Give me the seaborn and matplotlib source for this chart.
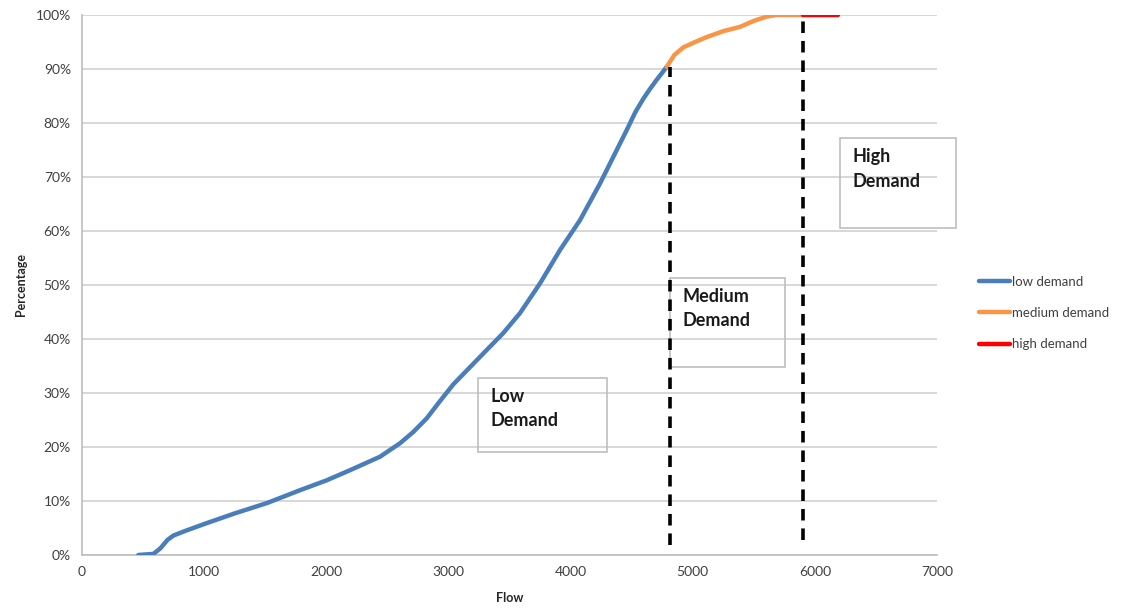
import numpy as np
import pandas as pd
import matplotlib
matplotlib.use("Agg")
import matplotlib.pyplot as plt
import seaborn as sns
from matplotlib.ticker import PercentFormatter

# values (flow, cumulative percentage)
flow_low = [461, 584, 640, 700, 748, 850, 1021, 1250, 1512, 1785, 2000, 2194, 2440, 2604,
            2713, 2822, 2931, 3040, 3259, 3449, 3586, 3750, 3914, 4077, 4241, 4378, 4460,
            4530, 4596, 4650, 4705, 4750, 4787]
pct_low = [0.0, 0.2, 1.2, 2.8, 3.6, 4.5, 5.9, 7.7, 9.6, 12.0, 13.8, 15.7, 18.2, 20.7,
           22.8, 25.3, 28.5, 31.6, 36.7, 41.1, 44.8, 50.3, 56.5, 62.0, 68.8, 75.0, 78.7,
           82.0, 84.5, 86.3, 88.0, 89.3, 90.4]
flow_med = [4787, 4850, 4923, 5020, 5114, 5250, 5387, 5500, 5606, 5688, 5905]
pct_med = [90.4, 92.6, 94.0, 95.0, 95.9, 97.0, 97.8, 98.9, 99.7, 100.0, 100.0]
flow_high = [5905, 6192]
pct_high = [100.0, 100.0]

demand_labels = ["low demand", "medium demand", "high demand"]
demand_colors = ["#4A7EBB", "#F79646", "#FF0000"]
thresholds = [4810, 5905]

df = pd.concat([
    pd.DataFrame({"Flow": flow_low, "Percentage": pct_low, "demand": demand_labels[0]}),
    pd.DataFrame({"Flow": flow_med, "Percentage": pct_med, "demand": demand_labels[1]}),
    pd.DataFrame({"Flow": flow_high, "Percentage": pct_high, "demand": demand_labels[2]}),
], ignore_index=True)
df["Percentage"] = df["Percentage"] / 100

sns.set_style("white")
plt.rcParams["font.family"] = ["Lato", "DejaVu Sans"]

fig = plt.figure(figsize=(11.27, 6.09), dpi=100)
ax = fig.add_axes([0.0728, 0.0887, 0.7586, 0.8867])

sns.lineplot(data=df, x="Flow", y="Percentage", hue="demand", hue_order=demand_labels,
             palette=dict(zip(demand_labels, demand_colors)), sort=False, estimator=None,
             linewidth=3.2, ax=ax, zorder=3)

# dashed thresholds
ax.plot([thresholds[0]] * 2, [0.018, 0.904], ls=(0, (3.2, 2.2)), color="black", lw=2.6, zorder=4)
ax.plot([thresholds[1]] * 2, [0.027, 1.0], ls=(0, (3.2, 2.2)), color="black", lw=2.6, zorder=4)

ax.set_xlim(0, 7000)
ax.set_ylim(0, 1)
ax.set_xticks(np.arange(0, 7001, 1000))
ax.set_yticks(np.arange(0, 1.01, 0.1))
ax.yaxis.set_major_formatter(PercentFormatter(1.0, decimals=0))
ax.grid(axis="y", color="#D4D4D4", lw=1.3)
ax.set_axisbelow(True)
for s in ["top", "right"]:
    ax.spines[s].set_visible(False)
for s in ["left", "bottom"]:
    ax.spines[s].set_color("#BDBDBD")
    ax.spines[s].set_linewidth(1.2)
ax.tick_params(axis="both", length=0, labelsize=10, colors="#404040", pad=8)
ax.set_xlabel("Flow", fontsize=9, fontweight="bold", labelpad=10)
ax.set_ylabel("Percentage", fontsize=9, fontweight="bold", labelpad=6)

# text boxes
boxes = [("Low\nDemand", 3242, 0.191, 1056, 0.137),
         ("Medium\nDemand", 4814, 0.348, 942, 0.165),
         ("High\nDemand", 6206, 0.606, 950, 0.166)]
for txt, x0, y0, w, h in boxes:
    ax.add_patch(plt.Rectangle((x0, y0), w, h, fill=False, edgecolor="#BFBFBF", lw=1.2,
                               clip_on=False, zorder=2))
    ax.text(x0 + 100, y0 + h - 0.018, txt, fontsize=13, fontweight="bold", color="#1a1a1a",
            va="top", ha="left", linespacing=1.55, zorder=5)

ax.legend(loc="center left", bbox_to_anchor=(1.035, 0.448), frameon=False, fontsize=9.5,
          handlelength=2.4, handletextpad=0.1, labelspacing=1.45, labelcolor="#404040")

fig.savefig("out.png", dpi=100)
